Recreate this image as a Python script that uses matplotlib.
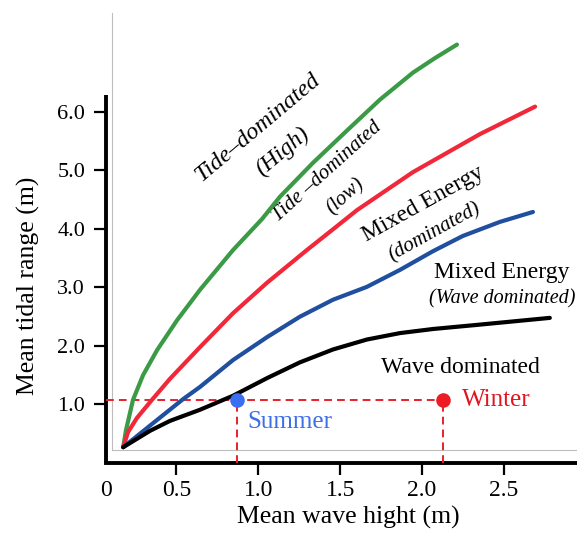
import matplotlib
matplotlib.use("Agg")
import matplotlib.pyplot as plt

plt.rcParams['font.family'] = ['Liberation Serif', 'DejaVu Serif']

# ---- data ----
green_x = [0.175, 0.192, 0.235, 0.296, 0.382, 0.504, 0.644, 0.846, 1.023, 1.132, 1.334, 1.541, 1.743, 1.944, 2.079, 2.213]
green_y = [0.27, 0.56, 1.08, 1.50, 1.93, 2.44, 2.96, 3.64, 4.17, 4.55, 5.13, 5.68, 6.21, 6.67, 6.92, 7.15]

red_x = [0.175, 0.205, 0.259, 0.351, 0.461, 0.644, 0.846, 1.053, 1.297, 1.468, 1.602, 1.944, 2.353, 2.690]
red_y = [0.27, 0.53, 0.77, 1.08, 1.44, 1.98, 2.56, 3.08, 3.64, 4.02, 4.32, 4.97, 5.62, 6.09]

blue_x = [0.175, 0.357, 0.540, 0.644, 0.846, 1.053, 1.254, 1.456, 1.663, 1.865, 2.067, 2.249, 2.475, 2.677]
blue_y = [0.27, 0.68, 1.09, 1.30, 1.76, 2.15, 2.50, 2.79, 3.01, 3.30, 3.62, 3.88, 4.12, 4.29]

black_x = [0.175, 0.339, 0.461, 0.644, 0.846, 1.053, 1.254, 1.456, 1.663, 1.865, 2.067, 2.335, 2.780]
black_y = [0.27, 0.55, 0.72, 0.91, 1.15, 1.45, 1.72, 1.94, 2.11, 2.22, 2.29, 2.36, 2.48]

season_names = ["Summer", "Winter"]
season_x = [0.871, 2.127]
season_y = [1.08, 1.08]

x_ticks = [0.5, 1.0, 1.5, 2.0, 2.5]
x_ticklabels = ["0.5", "1.0", "1.5", "2.0", "2.5"]
y_ticks = [1.0, 2.0, 3.0, 4.0, 5.0, 6.0]
y_ticklabels = ["1.0", "2.0", "3.0", "4.0", "5.0", "6.0"]

# ---- figure ----
W, H = 577, 533
fig = plt.figure(figsize=(W / 100, H / 100), dpi=100)
ax = fig.add_axes([106 / W, 70 / H, 471 / W, 450 / H])
xmin, xmax = 0.070, 2.946
ymin, ymax = 0.0, 7.69
ax.set_xlim(xmin, xmax)
ax.set_ylim(ymin, ymax)

# thin grey inner frame
ax.plot([0.107, 0.107], [0.22, ymax], color='#bdbdbd', lw=0.8, clip_on=False)
ax.plot([0.107, xmax], [0.22, 0.22], color='#bdbdbd', lw=0.8, clip_on=False)

# curves
kw = dict(lw=3.0, solid_capstyle='round', solid_joinstyle='round', clip_on=False)
ax.plot(green_x, green_y, color='#3a9a45', zorder=4, **kw)
ax.plot(red_x, red_y, color='#f0283a', zorder=4, **kw)
ax.plot(blue_x, blue_y, color='#1f4f9e', zorder=4, **kw)
ax.plot(black_x, black_y, color='black', zorder=5, **kw)

# dashed reference lines
dkw = dict(color='#e8202a', lw=1.4, dashes=(4, 2.6), zorder=3)
ax.plot([xmin, season_x[1]], [season_y[1], season_y[1]], **dkw)
ax.plot([season_x[0], season_x[0]], [0, season_y[0]], **dkw)
ax.plot([season_x[1], season_x[1]], [0, season_y[1]], **dkw)

ax.plot(season_x[0], season_y[0], 'o', color='#3c6ef2', ms=10.5, zorder=6, mec='none')
ax.plot(season_x[1], season_y[1], 'o', color='#ec1c24', ms=10.5, zorder=6, mec='none')
ax.text(0.931, 0.70, season_names[0], color='#3f6fe6', fontsize=18, ha='left', va='center')
ax.text(2.243, 1.08, season_names[1], color='#e3141e', fontsize=18, ha='left', va='center')

# annotations
ax.text(0.998, 5.73, "Tide\u2013dominated", fontsize=17.5, style='italic', rotation=40,
        ha='center', va='center', rotation_mode='anchor')
ax.text(1.145, 5.32, "(High)", fontsize=17, style='italic', rotation=40,
        ha='center', va='center', rotation_mode='anchor')
ax.text(1.419, 4.97, "Tide \u2013dominated", fontsize=15, style='italic', rotation=42,
        ha='center', va='center', rotation_mode='anchor')
ax.text(1.535, 4.55, "(low)", fontsize=15, style='italic', rotation=42,
        ha='center', va='center', rotation_mode='anchor')
ax.text(2.005, 4.43, "Mixed Energy", fontsize=17, rotation=29,
        ha='center', va='center', rotation_mode='anchor')
ax.text(2.079, 3.95, "(dominated)", fontsize=15, style='italic', rotation=29,
        ha='center', va='center', rotation_mode='anchor')
ax.text(2.488, 3.25, "Mixed Energy", fontsize=17, ha='center', va='center')
ax.text(2.488, 2.80, "(Wave dominated)", fontsize=14.5, style='italic', ha='center', va='center')
ax.text(2.237, 1.64, "Wave dominated", fontsize=17, ha='center', va='center')

# spines / ticks
for s in ['top', 'right']:
    ax.spines[s].set_visible(False)
ax.spines['left'].set_linewidth(2.8)
ax.spines['bottom'].set_linewidth(2.8)
ax.spines['left'].set_bounds(0, 6.29)
ax.spines['left'].set_capstyle('butt')

ax.set_xticks(x_ticks)
ax.set_xticklabels(x_ticklabels)
ax.set_yticks(y_ticks)
ax.set_yticklabels(y_ticklabels)
ax.tick_params(axis='x', direction='out', length=8.5, width=1.6, pad=4, labelsize=17)
ax.tick_params(axis='y', direction='out', length=9, width=1.6, pad=6, labelsize=16)
ax.annotate("0", xy=(xmin, 0), xycoords='data', xytext=(0, -20), textcoords='offset points',
            ha='center', va='center', fontsize=17, annotation_clip=False)

ax.set_xlabel("Mean wave hight (m)", fontsize=18.5, labelpad=0)
ax.set_ylabel("Mean tidal range (m)", fontsize=18.5, labelpad=8)
ax.xaxis.set_label_coords((348 - 106) / 471, (463 - 506) / 450)
ax.yaxis.set_label_coords((40 - 106) / 471, (463 - 286) / 450)

fig.savefig("out.png", dpi=100)
